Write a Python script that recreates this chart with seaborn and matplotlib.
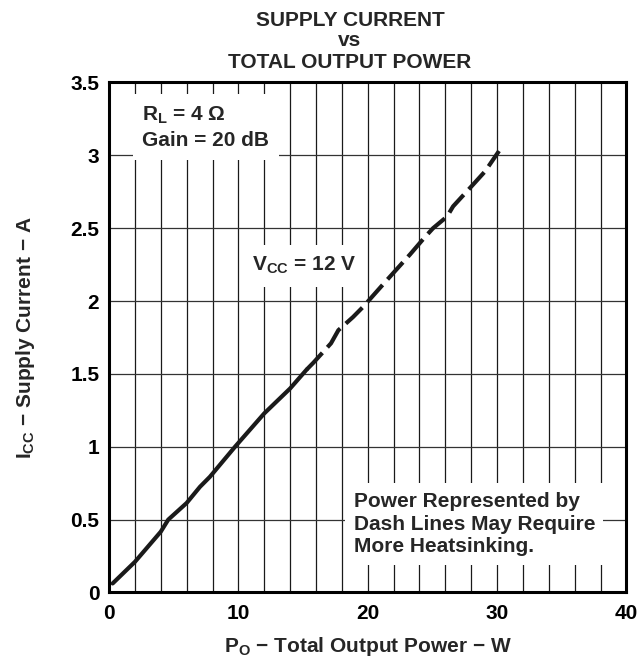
import matplotlib
matplotlib.use("Agg")
import matplotlib.pyplot as plt
import pandas as pd
import seaborn as sns

# данные кривой: сплошной участок и пунктир (нужен радиатор)
power_solid = [0.28, 2.0, 4.0, 4.58, 6.0, 7.03, 7.8, 9.74, 12.0, 14.0, 15.28]
current_solid = [0.062, 0.21, 0.417, 0.50, 0.614, 0.725, 0.794, 1.0, 1.229, 1.40, 1.53]
power_dash = [15.28, 15.8, 17.16, 17.73, 18.86, 19.64, 21.34, 23.27, 24.43, 25.05,
              26.13, 26.6, 28.15, 29.07, 30.15]
current_dash = [1.53, 1.577, 1.71, 1.80, 1.89, 1.96, 2.13, 2.32, 2.44, 2.50,
                2.58, 2.65, 2.80, 2.89, 3.03]

x_ticks = [0, 10, 20, 30, 40]
y_ticks = [0, 0.5, 1, 1.5, 2, 2.5, 3, 3.5]
y_labels = ["0", "0.5", "1", "1.5", "2", "2.5", "3", "3.5"]

df = pd.concat([
    pd.DataFrame({"power": power_solid, "current": current_solid, "seg": "solid"}),
    pd.DataFrame({"power": power_dash, "current": current_dash, "seg": "dash"}),
])

sns.set_theme(style="white")
plt.rcParams["font.family"] = ["Liberation Sans", "DejaVu Sans"]
plt.rcParams["font.weight"] = "bold"
plt.rcParams["mathtext.fontset"] = "custom"
plt.rcParams["mathtext.rm"] = "Liberation Sans:bold"
plt.rcParams["mathtext.it"] = "Liberation Sans:bold"
plt.rcParams["mathtext.bf"] = "Liberation Sans:bold"
plt.rcParams["mathtext.default"] = "rm"

FS = 15

fig = plt.figure(figsize=(6.42, 6.62), dpi=100)
ax = fig.add_axes([0.1698, 0.105, 0.806, 0.7704])

sns.lineplot(data=df, x="power", y="current", style="seg", sort=False,
             dashes={"solid": "", "dash": (5.5, 1.8)}, color="#1a1a1a",
             linewidth=3, legend=False, ax=ax)

ax.set_xlim(0, 40)
ax.set_ylim(0, 3.5)
ax.set_xticks(x_ticks)
ax.set_xticks(range(0, 41, 2), minor=True)
ax.set_yticks(y_ticks)
ax.set_yticklabels(y_labels)
ax.tick_params(which="both", length=0, labelsize=FS, colors="black")
ax.tick_params(axis="x", pad=8)
ax.tick_params(axis="y", pad=7)
for lab in ax.get_xticklabels() + ax.get_yticklabels():
    lab.set_fontweight("bold")

ax.grid(which="both", axis="x", color="#1a1a1a", linewidth=0.9)
ax.grid(which="major", axis="y", color="#333333", linewidth=0.9)
for s in ax.spines.values():
    s.set_color("black")
    s.set_linewidth(2.2)

ax.set_xlabel("$P_O$ − Total Output Power − W", fontsize=FS, fontweight="bold", labelpad=9)
ax.set_ylabel("$I_{CC}$ − Supply Current − A", fontsize=FS, fontweight="bold", labelpad=24)

# заголовок в три строки
fig.text(0.545, 1 - 20 / 662, "SUPPLY CURRENT", ha="center", va="center", fontsize=FS, fontweight="bold")
fig.text(0.545, 1 - 41 / 662, "vs", ha="center", va="center", fontsize=FS, fontweight="bold")
fig.text(0.545, 1 - 62 / 662, "TOTAL OUTPUT POWER", ha="center", va="center", fontsize=FS, fontweight="bold")

ax.text(2.57, 3.19, "$R_L$ = 4 Ω\nGain = 20 dB", fontsize=FS, fontweight="bold",
        ha="left", va="center", linespacing=1.35, zorder=3,
        bbox=dict(facecolor="white", edgecolor="none", boxstyle="square,pad=0.45"))
ax.text(11.07, 2.243, "$V_{CC}$ = 12 V", fontsize=FS, fontweight="bold",
        ha="left", va="center", zorder=3,
        bbox=dict(facecolor="white", edgecolor="none", boxstyle="square,pad=0.5"))
ax.text(18.9, 0.47, "Power Represented by\nDash Lines May Require\nMore Heatsinking.",
        fontsize=FS, fontweight="bold", ha="left", va="center", linespacing=1.25, zorder=3,
        bbox=dict(facecolor="white", edgecolor="none", boxstyle="square,pad=0.4"))

fig.savefig("out.png", dpi=100)
